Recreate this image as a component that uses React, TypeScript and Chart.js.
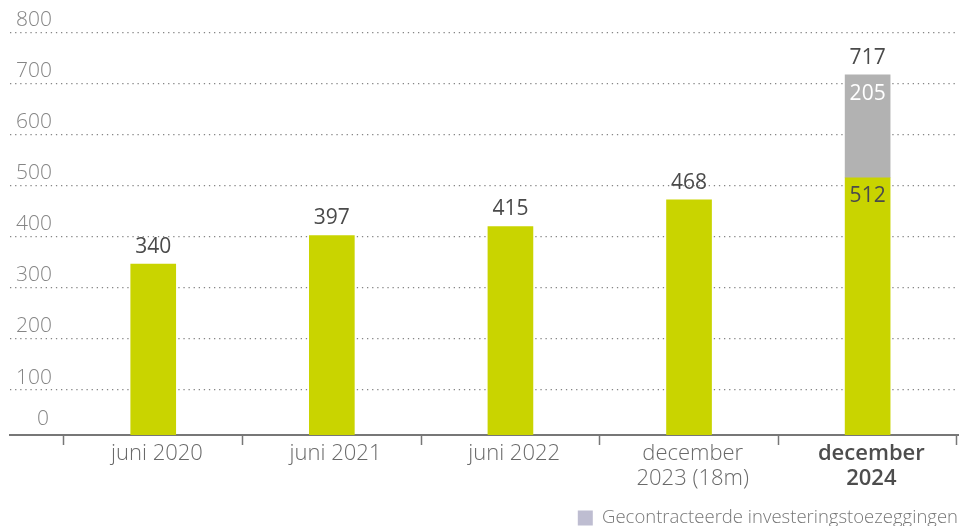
import React, { useEffect, useRef } from 'react';
import { Chart, registerables } from 'chart.js';

Chart.register(...registerables);

const categories: string[][] = [
  ['juni 2020'],
  ['juni 2021'],
  ['juni 2022'],
  ['december', '2023 (18m)'],
  ['december', '2024'],
];
const ownValues: number[] = [340, 397, 415, 468, 512];
const commitmentValues: (number | null)[] = [null, null, null, null, 205];
const gridTicks: number[] = [100, 200, 300, 400, 500, 600, 700, 800];
const zeroTick: number[] = [0];
const ownLabel = 'Totaal';
const commitmentLabel = 'Gecontracteerde investeringstoezeggingen';

const FONT = "'Open Sans', sans-serif";

const valueLabels = {
  id: 'valueLabels',
  afterDatasetsDraw(chart: any) {
    const ctx = chart.ctx;
    const own = chart.getDatasetMeta(0);
    const com = chart.getDatasetMeta(1);
    ctx.save();
    ctx.font = `500 21px ${FONT}`;
    ctx.textAlign = 'center';
    ctx.textBaseline = 'middle';
    ownValues.forEach((v, i) => {
      const bar = own.data[i];
      const c = commitmentValues[i];
      ctx.fillStyle = '#4a4a4a';
      if (c == null) {
        ctx.fillText(String(v), bar.x, bar.y - 17);
      } else {
        ctx.fillText(String(v), bar.x, bar.y + 18);
        const top = com.data[i];
        ctx.fillStyle = '#ffffff';
        ctx.fillText(String(c), top.x, top.y + 19);
        ctx.fillStyle = '#4a4a4a';
        ctx.fillText(String(v + c), top.x, top.y - 17);
      }
    });
    ctx.restore();
  },
};

export default function App() {
  const ref = useRef<HTMLCanvasElement>(null);

  useEffect(() => {
    const boundaries = categories.map((_, i) => i - 0.5).concat([categories.length - 0.5]);
    const chart = new Chart(ref.current as HTMLCanvasElement, {
      type: 'bar',
      data: {
        datasets: [
          {
            label: ownLabel,
            data: ownValues.map((v, i) => ({ x: i, y: v })),
            backgroundColor: '#c9d400',
            borderWidth: 0,
            barThickness: 45,
            stack: 's',
          },
          {
            label: commitmentLabel,
            data: commitmentValues.map((v, i) => ({ x: i, y: v as any })),
            backgroundColor: '#b2b2b2',
            borderWidth: 0,
            barThickness: 45,
            stack: 's',
          },
        ],
      } as any,
      plugins: [valueLabels],
      options: {
        animation: false,
        responsive: true,
        maintainAspectRatio: false,
        layout: { padding: { left: 10, right: 2, top: 33, bottom: -11.25 } },
        plugins: {
          tooltip: { enabled: false },
          legend: {
            display: true,
            position: 'bottom',
            align: 'end',
            labels: {
              padding: 0,
              boxWidth: 15,
              boxHeight: 15,
              color: '#777777',
              font: { family: FONT, size: 18.5, weight: '300' as any },
              generateLabels: (ch: any) => [
                {
                  text: ch.data.datasets[1].label,
                  fillStyle: '#bebdd1',
                  strokeStyle: '#bebdd1',
                  lineWidth: 0,
                  hidden: false,
                  datasetIndex: 1,
                  fontColor: '#777777',
                },
              ],
            },
          },
        },
        scales: {
          x: {
            type: 'linear',
            min: -0.802,
            max: 4.506,
            offset: false,
            stacked: true,
            afterBuildTicks: (s: any) => {
              s.ticks = boundaries.map((v) => ({ value: v }));
            },
            afterFit: (s: any) => {
              s.height = 73.75;
            },
            grid: {
              display: true,
              offset: false,
              drawOnChartArea: false,
              drawTicks: true,
              tickLength: 10,
              tickColor: '#777777',
              tickWidth: 1.5,
              color: '#777777',
            },
            border: { display: true, color: '#777777', width: 2 },
            ticks: {
              autoSkip: false,
              maxRotation: 0,
              minRotation: 0,
              padding: -4,
              labelOffset: 93,
              callback: (value: any) => {
                const idx = Math.round(Number(value) + 0.5);
                return idx < categories.length ? categories[idx] : '';
              },
              color: (c: any) => (c.index === categories.length - 1 ? '#4d4d4d' : '#6a6a6a'),
              font: (c: any) =>
                c.index === categories.length - 1
                  ? { family: FONT, size: 22, weight: '600', lineHeight: 1.15 }
                  : { family: FONT, size: 22, weight: '300', lineHeight: 1.15 },
            } as any,
          },
          y: {
            type: 'linear',
            position: 'left',
            min: 0,
            max: 800,
            stacked: true,
            afterBuildTicks: (s: any) => {
              s.ticks = zeroTick.map((v) => ({ value: v }));
            },
            afterFit: (s: any) => {
              s.width = 0;
              s.paddingTop = 0;
              s.paddingBottom = 0;
            },
            grid: { display: false, drawTicks: false },
            border: { display: false },
            ticks: {
              mirror: true,
              crossAlign: 'near',
              padding: 27,
              labelOffset: -16,
              color: '#858585',
              font: { family: FONT, size: 21, weight: '300' as any },
            },
          },
          yGrid: {
            type: 'linear',
            position: 'left',
            min: 11.8,
            max: 800,
            afterBuildTicks: (s: any) => {
              s.ticks = gridTicks.map((v) => ({ value: v }));
            },
            afterFit: (s: any) => {
              s.width = 0;
              s.paddingTop = 0;
              s.paddingBottom = 0;
            },
            grid: {
              display: true,
              drawTicks: false,
              color: '#858585',
              lineWidth: 1.3,
            },
            border: { display: false, dash: [1.3, 3.8] },
            ticks: {
              mirror: true,
              crossAlign: 'far',
              padding: 6,
              labelOffset: -12.5,
              color: '#858585',
              font: { family: FONT, size: 21, weight: '300' as any },
            },
          },
        },
      } as any,
    });
    return () => chart.destroy();
  }, []);

  return (
    <div style={{ position: 'absolute', left: 0, top: 0, width: 960, height: 526 }}>
      <canvas ref={ref} />
    </div>
  );
}
